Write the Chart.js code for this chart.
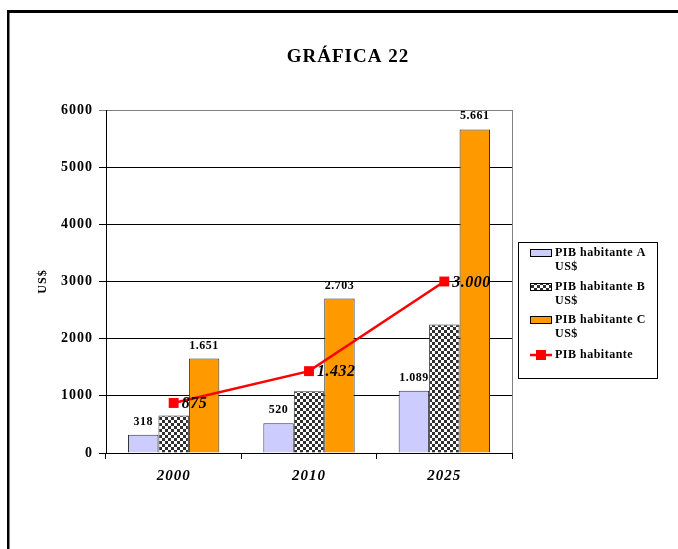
<!DOCTYPE html>
<html>
<head>
<meta charset="utf-8">
<title>GRÁFICA 22</title>
<script src="https://cdn.jsdelivr.net/npm/chart.js@4"></script>
<style>
	html, body { margin: 0; padding: 0; background: #fff; }
	canvas { display: block; }
</style>
</head>
<body>
<canvas id="grafica" width="678" height="549"></canvas>
<script>
// Données
const years = ['2000', '2010', '2025'];
const pibA = [318, 520, 1089];
const pibB = [655, 1080, 2250];
const pibC = [1651, 2703, 5661];
const pibHabitante = [875, 1432, 3000];

const yMax = 6000;
const yStep = 1000;

const chartTitle = 'GRÁFICA 22';
const yTitle = 'US$';
const legendLines = [
	['PIB habitante A', 'US$'],
	['PIB habitante B', 'US$'],
	['PIB habitante C', 'US$'],
	['PIB habitante']
];

const serif = '"Liberation Serif", "Times New Roman", serif';

// motif en damier pour la série B
function makeChecker() {
	const c = document.createElement('canvas');
	c.width = 6;
	c.height = 6;
	const g = c.getContext('2d');
	g.fillStyle = '#ffffff';
	g.fillRect(0, 0, 6, 6);
	g.fillStyle = '#303030';
	g.fillRect(0, 0, 3, 3);
	g.fillRect(3, 3, 3, 3);
	return g.createPattern(c, 'repeat');
}

// séparateur de milliers avec un point
function fmt(v) {
	return String(v).replace(/\B(?=(\d{3})+(?!\d))/g, '.');
}

// espacement des lettres pour le texte dessiné par Chart.js
const spacingPlugin = {
	id: 'spacing',
	beforeLayout(chart) { chart.ctx.letterSpacing = '1px'; },
	beforeDraw(chart) { chart.ctx.letterSpacing = '1px'; }
};

// cadre, fond et titre
const framePlugin = {
	id: 'cadre',
	beforeDraw(chart) {
		const ctx = chart.ctx;
		ctx.save();
		ctx.fillStyle = '#fff';
		ctx.fillRect(0, 0, chart.width, chart.height);
		ctx.fillStyle = '#000';
		ctx.fillRect(7, 10, chart.width - 7, 3);
		ctx.fillRect(7, 10, 2.5, chart.height - 10);

		ctx.font = 'bold 19px ' + serif;
		ctx.letterSpacing = '1px';
		ctx.textAlign = 'center';
		ctx.textBaseline = 'middle';
		ctx.fillText(chartTitle, 348, 57);
		ctx.restore();
	},
	beforeDatasetsDraw(chart) {
		// bord droit de la zone de tracé
		const a = chart.chartArea;
		const ctx = chart.ctx;
		ctx.save();
		ctx.strokeStyle = '#808080';
		ctx.lineWidth = 1;
		ctx.beginPath();
		ctx.moveTo(Math.round(a.right) + 0.5, a.top);
		ctx.lineTo(Math.round(a.right) + 0.5, a.bottom);
		ctx.stroke();
		ctx.restore();
	}
};

// étiquettes de valeurs
const labelsPlugin = {
	id: 'valeurs',
	afterDatasetsDraw(chart) {
		const ctx = chart.ctx;
		ctx.save();
		ctx.fillStyle = '#000';
		ctx.textBaseline = 'middle';
		[0, 2].forEach((i) => {
			const meta = chart.getDatasetMeta(i);
			ctx.font = 'bold 12px ' + serif;
			ctx.letterSpacing = '0.5px';
			ctx.textAlign = 'center';
			meta.data.forEach((bar, j) => {
				ctx.fillText(fmt(chart.data.datasets[i].data[j]), bar.x, bar.y - 13);
			});
		});
		const lineMeta = chart.getDatasetMeta(3);
		ctx.font = 'italic bold 16px ' + serif;
		ctx.letterSpacing = '0.5px';
		ctx.textAlign = 'left';
		lineMeta.data.forEach((pt, j) => {
			ctx.fillText(fmt(chart.data.datasets[3].data[j]), pt.x + 8, pt.y + 1);
		});
		ctx.restore();
	}
};

// légende dessinée à la main (texte sur deux lignes)
const legendPlugin = {
	id: 'leyenda',
	afterDraw(chart) {
		const ctx = chart.ctx;
		const x0 = 518, y0 = 242, w = 139, h = 136;
		const rows = [253, 287, 320, 355];
		ctx.save();
		ctx.lineWidth = 1;
		ctx.strokeStyle = '#000';
		ctx.strokeRect(x0 + 0.5, y0 + 0.5, w, h);
		ctx.font = 'bold 12px ' + serif;
		ctx.letterSpacing = '0.5px';
		ctx.textBaseline = 'middle';
		ctx.textAlign = 'left';
		chart.data.datasets.forEach((ds, i) => {
			const y = rows[i];
			if (ds.type === 'line') {
				ctx.strokeStyle = ds.borderColor;
				ctx.lineWidth = 2.5;
				ctx.beginPath();
				ctx.moveTo(530, y);
				ctx.lineTo(552, y);
				ctx.stroke();
				ctx.fillStyle = ds.pointBackgroundColor;
				ctx.fillRect(536, y - 5, 10, 10);
			} else {
				ctx.fillStyle = ds.backgroundColor;
				ctx.fillRect(530.5, y - 3.5, 21, 7);
				ctx.strokeStyle = '#000';
				ctx.lineWidth = 1;
				ctx.strokeRect(530.5, y - 3.5, 21, 7);
			}
			ctx.fillStyle = '#000';
			legendLines[i].forEach((t, k) => {
				ctx.fillText(t, 555, y + k * 14);
			});
		});
		ctx.restore();
	}
};

const ctx = document.getElementById('grafica');

new Chart(ctx, {
	type: 'bar',
	data: {
		labels: years,
		datasets: [
			{
				label: 'PIB habitante A US$',
				data: pibA,
				backgroundColor: '#ccccff',
				borderColor: '#333',
				borderWidth: 1
			},
			{
				label: 'PIB habitante B US$',
				data: pibB,
				backgroundColor: makeChecker(),
				borderColor: '#333',
				borderWidth: 1
			},
			{
				label: 'PIB habitante C US$',
				data: pibC,
				backgroundColor: '#ff9900',
				borderColor: '#333',
				borderWidth: 1
			},
			{
				type: 'line',
				label: 'PIB habitante',
				data: pibHabitante,
				borderColor: '#ff0000',
				borderWidth: 2.5,
				backgroundColor: '#ff0000',
				pointStyle: 'rect',
				pointRadius: 7,
				pointBackgroundColor: '#ff0000',
				pointBorderColor: '#ff0000',
				pointBorderWidth: 0,
				tension: 0,
				order: -1
			}
		]
	},
	options: {
		responsive: false,
		animation: false,
		categoryPercentage: 0.675,
		barPercentage: 1,
		layout: {
			padding: { top: 110, right: 166, left: 0, bottom: 0 }
		},
		scales: {
			x: {
				grid: {
					offset: true,
					drawOnChartArea: false,
					tickLength: 6,
					color: '#000'
				},
				border: { color: '#000', width: 1 },
				ticks: {
					color: '#000',
					padding: 8,
					font: { family: serif, size: 15, style: 'italic', weight: 'bold' }
				},
				afterFit(scale) { scale.height = 96; }
			},
			y: {
				min: 0,
				max: yMax,
				ticks: {
					stepSize: yStep,
					color: '#000',
					padding: 6,
					font: { family: serif, size: 14, weight: 'bold' },
					callback: (v) => String(v)
				},
				grid: {
					color: (c) => (c.tick && c.tick.value === yMax ? '#808080' : '#000'),
					tickLength: 7,
					lineWidth: 1
				},
				border: { color: '#000', width: 1 },
				title: {
					display: true,
					text: yTitle,
					color: '#000',
					padding: { top: 36, bottom: 0 },
					font: { family: serif, size: 12, weight: 'bold' }
				},
				afterFit(scale) { scale.width = 106; }
			}
		},
		plugins: {
			legend: { display: false },
			title: { display: false },
			tooltip: { enabled: false }
		}
	},
	plugins: [spacingPlugin, framePlugin, labelsPlugin, legendPlugin]
});
</script>
</body>
</html>
